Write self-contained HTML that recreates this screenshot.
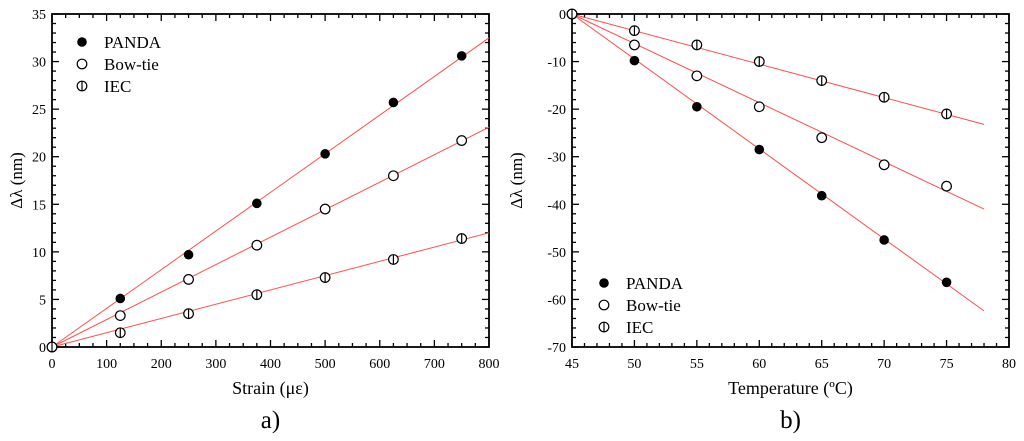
<!DOCTYPE html>
<html><head><meta charset="utf-8"><style>
body{margin:0;background:#fff}
svg{display:block}
svg text{font-family:"Liberation Serif","Times New Roman",serif}
</style></head><body>
<svg id="svg" width="1024" height="441" viewBox="0 0 1024 441" font-family="Liberation Serif, serif"></svg>
<script>
// Chart a) Strain
const strainX=[0,125,250,375,500,625,750];
const strainPanda=[0,5.1,9.7,15.1,20.3,25.7,30.6];
const strainBow=[0,3.3,7.1,10.7,14.5,18.0,21.7];
const strainIec=[0,1.5,3.5,5.5,7.3,9.2,11.4];
const strainFitEnd=[32.5,23.1,12.0];
const strainXTicks=[0,100,200,300,400,500,600,700,800];
const strainYTicks=[0,5,10,15,20,25,30,35];
// Chart b) Temperature
const tempX=[45,50,55,60,65,70,75];
const tempPanda=[0,-9.8,-19.5,-28.5,-38.2,-47.5,-56.4];
const tempBow=[0,-6.5,-13,-19.5,-26,-31.7,-36.2];
const tempIec=[0,-3.5,-6.5,-10,-14,-17.5,-21];
const tempFitEnd=[-62.4,-41,-23.2];
const tempXTicks=[45,50,55,60,65,70,75,80];
const tempYTicks=[-70,-60,-50,-40,-30,-20,-10,0];

const NS="http://www.w3.org/2000/svg";
const svg=document.getElementById('svg');
function el(tag,attrs,parent,text){const e=document.createElementNS(NS,tag);for(const k in attrs)e.setAttribute(k,attrs[k]);if(tag==='text')e.setAttribute('font-family','Liberation Serif, serif');if(text!==undefined)e.textContent=text;(parent||svg).appendChild(e);return e;}

function marker(g,type,x,y){
  if(type==='panda'){const c=el('circle',{cx:x,cy:y,r:4.8,fill:'#000'},g);
    
    }
  else{const c=el('circle',{cx:x,cy:y,r:4.8,fill:'#fff',stroke:'#000','stroke-width':1.2},g);
    
    
    if(type==='iec'){const l=el('line',{x1:x,y1:y-4.8,x2:x,y2:y+4.8,stroke:'#000','stroke-width':1.2},g);
      
      }}
}

function chart(o){
  const g=el('g',{});
  
  
  const sx=v=>o.x0+(v-o.xmin)/(o.xmax-o.xmin)*(o.x1-o.x0);
  const sy=v=>o.y0-(v-o.ymin)/(o.ymax-o.ymin)*(o.y0-o.y1);
  for(let v=o.xmin;v<=o.xmax+1e-9;v+=o.xminor){const x=sx(v);const major=Math.abs(((v-o.xmin)/o.xmajor)-Math.round((v-o.xmin)/o.xmajor))<1e-6;const L=major?7:4;
    el('line',{x1:x,y1:o.y0,x2:x,y2:o.y0-L,stroke:'#000','stroke-width':1.3},g);
    el('line',{x1:x,y1:o.y1,x2:x,y2:o.y1+L,stroke:'#000','stroke-width':1.3},g);}
  for(let v=o.ymin;v<=o.ymax+1e-9;v+=o.yminor){const y=sy(v);const major=Math.abs(((v-o.ymin)/o.ymajor)-Math.round((v-o.ymin)/o.ymajor))<1e-6;const L=major?7:4;
    el('line',{x1:o.x0,y1:y,x2:o.x0+L,y2:y,stroke:'#000','stroke-width':1.3},g);
    el('line',{x1:o.x1,y1:y,x2:o.x1-L,y2:y,stroke:'#000','stroke-width':1.3},g);}
  const fr=el('rect',{x:o.x0,y:o.y1,width:o.x1-o.x0,height:o.y0-o.y1,fill:'none',stroke:'#000','stroke-width':1.8},g);
  
  
  o.xt.forEach(v=>{const t=el('text',{x:sx(v),y:o.y0+21,'text-anchor':'middle','font-size':14},g,String(v));
    
    });
  o.yt.forEach(v=>{const t=el('text',{x:o.x0-6,y:sy(v)+5,'text-anchor':'end','font-size':14},g,String(v));
    
    });
  const xt=el('text',{x:(o.x0+o.x1)/2,y:394,'text-anchor':'middle','font-size':18},g,o.xtitle);
  
  
  const yc=(o.y0+o.y1)/2;
  const yt=el('text',{x:o.ytx,y:yc,'text-anchor':'middle','font-size':17,transform:`rotate(-90 ${o.ytx} ${yc})`},g,'Δλ (nm)');
  
  
  const lb=el('text',{x:(o.x0+o.x1)/2,y:428,'text-anchor':'middle','font-size':25},g,o.label);
  
  
  const types=['panda','bow','iec'];
  o.series.forEach((s,i)=>{
    const ln=el('line',{x1:sx(o.xs[0]),y1:sy(s[0]),x2:sx(o.fitX),y2:sy(o.fit[i]),stroke:'#ff4d4d','stroke-width':1},g);
    
    
  });
  o.series.forEach((s,i)=>{s.forEach((v,j)=>marker(g,types[i],sx(o.xs[j]),sy(v)));});
  const names=['PANDA','Bow-tie','IEC'];
  o.legY.forEach((y,i)=>{
    marker(g,types[i],o.legX,y);
    const t=el('text',{x:o.legX+22,y:y+6,'font-size':17},g,names[i]);
    
    
  });
}

chart({name:'strain-chart',x0:52,x1:489,y0:347,y1:14,xmin:0,xmax:800,ymin:0,ymax:35,xmajor:100,xminor:25,ymajor:5,yminor:1,
  xt:strainXTicks,yt:strainYTicks,xs:strainX,series:[strainPanda,strainBow,strainIec],fit:strainFitEnd,fitX:800,
  xtitle:'Strain (με)',ytx:22,label:'a)',legX:82,legY:[42,64,86]});
chart({name:'temperature-chart',x0:572,x1:1009,y0:347,y1:14,xmin:45,xmax:80,ymin:-70,ymax:0,xmajor:5,xminor:1,ymajor:10,yminor:2,
  xt:tempXTicks,yt:tempYTicks,xs:tempX,series:[tempPanda,tempBow,tempIec],fit:tempFitEnd,fitX:78,
  xtitle:'Temperature (ºC)',ytx:522,label:'b)',legX:604,legY:[283,305,327]});
</script>
</body></html>
